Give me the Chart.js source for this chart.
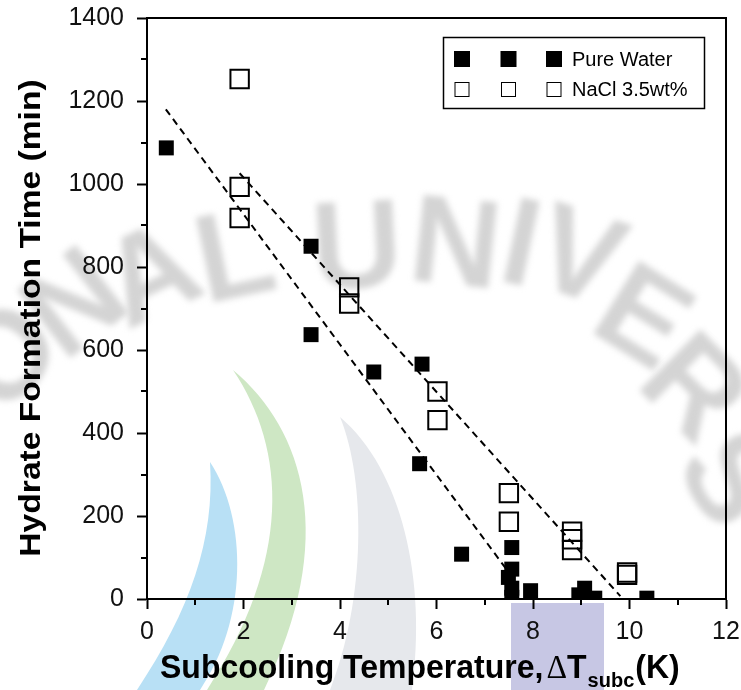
<!DOCTYPE html>
<html><head><meta charset="utf-8">
<script src="https://cdn.jsdelivr.net/npm/chart.js@4.4.0/dist/chart.umd.min.js"></script>
<style>html,body{margin:0;padding:0;background:#fff;}#wrap{position:relative;width:741px;height:690px;}</style>
</head><body><div id="wrap"><canvas id="c" width="741" height="690"></canvas></div>
<script>
// ---- data ----
const pureX = [0.40, 3.40, 3.40, 4.70, 5.70, 5.65, 6.52, 7.56, 7.56, 7.49, 7.56, 7.56, 7.95, 9.07, 8.95, 9.28, 9.09, 10.36];
const pureY = [1087, 850, 637, 547, 566, 326, 108, 124, 72, 52, 26, 4, 20, 26, 10, 2, 0, 2];
const naclX = [1.92, 1.92, 1.92, 4.19, 4.19, 6.02, 6.02, 7.50, 7.50, 8.81, 8.81, 8.81, 9.95, 9.95];
const naclY = [1253, 993, 918, 751, 712, 500, 431, 255, 186, 162, 144, 118, 64, 58];
const fitPureX = [0.39, 7.60];
const fitPureY = [1180, 48];
const fitNaclX = [1.92, 9.81];
const fitNaclY = [1026, 7];
const seriesNames = ['Pure Water', 'NaCl 3.5wt%'];
const xTitle = ['Subcooling Temperature,', '\u0394', 'T', 'subc', '(K)'];
const yTitle = 'Hydrate Formation Time (min)';
const watermark = ['O','N','A','L','U','N','I','V','E','R','S'];

const pts = (xs, ys) => xs.map((x, i) => ({x: x, y: ys[i]}));
const SANS = "'Liberation Sans', Arial, Helvetica, sans-serif";

const watermarkPlugin = {
  id: 'wm',
  beforeDraw(chart) {
    const ctx = chart.ctx;
    ctx.save();
    ctx.fillStyle = '#fff';
    ctx.fillRect(0, 0, chart.width, chart.height);
    ctx.fillStyle = 'rgb(184,224,245)';
    ctx.beginPath(); ctx.moveTo(210,462); ctx.bezierCurveTo(248,520,248,620,200,690); ctx.lineTo(137,690); ctx.bezierCurveTo(190,610,215,540,210,462); ctx.fill();
    ctx.fillStyle = 'rgb(206,231,196)';
    ctx.beginPath(); ctx.moveTo(233,370); ctx.bezierCurveTo(305,430,338,540,264,690); ctx.lineTo(207,690); ctx.bezierCurveTo(292,560,287,450,233,370); ctx.fill();
    ctx.fillStyle = 'rgb(230,232,236)';
    ctx.beginPath(); ctx.moveTo(340,417); ctx.bezierCurveTo(402,470,427,580,412,690); ctx.lineTo(330,690); ctx.bezierCurveTo(366,600,366,480,340,417); ctx.fill();
    ctx.fillStyle = 'rgb(199,199,228)';
    ctx.fillRect(511, 603, 93, 87);
    const pos = [[10,360,-50],[78,308,-38],[153,280,-25],[236,262,-12],[357,253,-3],[455,250,6],[520,250,12],[578,262,18],[640,322,32],[690,392,45],[725,482,58]];
    ctx.filter = 'blur(3px)';
    ctx.fillStyle = 'rgba(205,205,205,0.85)';
    ctx.font = 'bold 125px ' + SANS;
    ctx.textAlign = 'center'; ctx.textBaseline = 'middle';
    watermark.forEach((ch, i) => {
      const p = pos[i];
      ctx.save(); ctx.translate(p[0], p[1]); ctx.rotate(p[2] * Math.PI / 180);
      ctx.fillText(ch, 0, 0); ctx.restore();
    });
    ctx.restore();
  }
};

const decoPlugin = {
  id: 'deco',
  afterDraw(chart) {
    const ctx = chart.ctx, a = chart.chartArea;
    const xs = chart.scales.x, ys = chart.scales.y;
    ctx.save();
    ctx.strokeStyle = '#000'; ctx.lineWidth = 2;
    ctx.beginPath(); ctx.moveTo(a.left - 1, a.top); ctx.lineTo(a.right, a.top); ctx.lineTo(a.right, a.bottom + 1); ctx.stroke();
    ctx.beginPath();
    for (let v = 1; v < 12; v += 2) { const px = Math.round(xs.getPixelForValue(v)); ctx.moveTo(px, a.bottom); ctx.lineTo(px, a.bottom + 6); }
    for (let v = 100; v < 1400; v += 200) { const py = Math.round(ys.getPixelForValue(v)); ctx.moveTo(a.left, py); ctx.lineTo(a.left - 6, py); }
    ctx.stroke();
    // legend
    ctx.fillStyle = '#fff'; ctx.fillRect(443.5, 37.5, 261, 71);
    ctx.lineWidth = 1.5; ctx.strokeRect(443.5, 37.5, 261, 71);
    const cx = [462, 508.5, 554];
    ctx.fillStyle = '#000';
    cx.forEach(x => ctx.fillRect(x - 8, 51, 16, 16));
    ctx.lineWidth = 1;
    cx.forEach(x => ctx.strokeRect(x - 7, 82.5, 14, 14));
    ctx.font = '20px ' + SANS; ctx.textAlign = 'left'; ctx.textBaseline = 'middle';
    ctx.fillText(seriesNames[0], 572, 60);
    ctx.fillText(seriesNames[1], 572, 90);
    // x title
    ctx.save();
    ctx.translate(160, 678); ctx.scale(1, 1.05);
    ctx.textBaseline = 'alphabetic'; ctx.textAlign = 'left';
    let x = 0;
    ctx.font = 'bold 32px ' + SANS; ctx.fillText(xTitle[0], x, 0); x += ctx.measureText(xTitle[0]).width + 3;
    ctx.font = '32px "Liberation Serif", serif'; ctx.fillText(xTitle[1], x, 0); x += ctx.measureText(xTitle[1]).width;
    ctx.font = 'bold 32px ' + SANS; ctx.fillText(xTitle[2], x, 0); x += ctx.measureText(xTitle[2]).width + 1;
    ctx.font = 'bold 20px ' + SANS; ctx.fillText(xTitle[3], x, 9); x += ctx.measureText(xTitle[3]).width + 1;
    ctx.font = 'bold 32px ' + SANS; ctx.fillText(xTitle[4], x, 0);
    ctx.restore();
    // y title
    ctx.save();
    ctx.translate(32, 318); ctx.rotate(-Math.PI / 2); ctx.scale(1.12, 1);
    ctx.font = 'bold 30px ' + SANS; ctx.textAlign = 'center'; ctx.textBaseline = 'middle';
    ctx.fillText(yTitle, 0, 0);
    ctx.restore();
    ctx.restore();
  }
};

const chart = new Chart(document.getElementById('c'), {
  type: 'scatter',
  data: {
    datasets: [
      { type: 'line', data: pts(fitPureX, fitPureY), borderColor: '#000', borderWidth: 2, borderDash: [7, 5], pointRadius: 0, fill: false },
      { type: 'line', data: pts(fitNaclX, fitNaclY), borderColor: '#000', borderWidth: 2, borderDash: [7, 5], pointRadius: 0, fill: false },
      { label: seriesNames[0], data: pts(pureX, pureY), pointStyle: 'rect', pointRadius: 10.6, backgroundColor: '#000', borderColor: '#000', borderWidth: 0 },
      { label: seriesNames[1], data: pts(naclX, naclY), pointStyle: 'rect', pointRadius: 13, backgroundColor: 'rgba(0,0,0,0)', borderColor: '#000', borderWidth: 2 }
    ]
  },
  options: {
    responsive: false, animation: false, devicePixelRatio: 1,
    layout: { padding: { top: 18, right: 13, left: 0, bottom: 0 } },
    plugins: { legend: { display: false }, tooltip: { enabled: false } },
    scales: {
      x: {
        type: 'linear', min: 0, max: 12,
        ticks: { stepSize: 2, font: { size: 25, family: SANS }, color: '#111', padding: 8, maxRotation: 0, callback: v => String(v) },
        grid: { display: true, drawOnChartArea: false, drawTicks: true, tickLength: 10, tickWidth: 2, tickColor: '#000' },
        border: { display: true, width: 2, color: '#000' },
        afterFit(s) { s.height = 91; s.paddingLeft = 0; s.paddingRight = 0; }
      },
      y: {
        type: 'linear', min: 0, max: 1400,
        ticks: { stepSize: 200, font: { size: 25, family: SANS }, color: '#111', padding: 13, callback: v => String(v) },
        grid: { display: true, drawOnChartArea: false, drawTicks: true, tickLength: 10, tickWidth: 2, tickColor: '#000' },
        border: { display: true, width: 2, color: '#000' },
        afterFit(s) { s.width = 147; s.paddingTop = 0; s.paddingBottom = 0; }
      }
    }
  },
  plugins: [watermarkPlugin, decoPlugin]
});
</script>
</body></html>
